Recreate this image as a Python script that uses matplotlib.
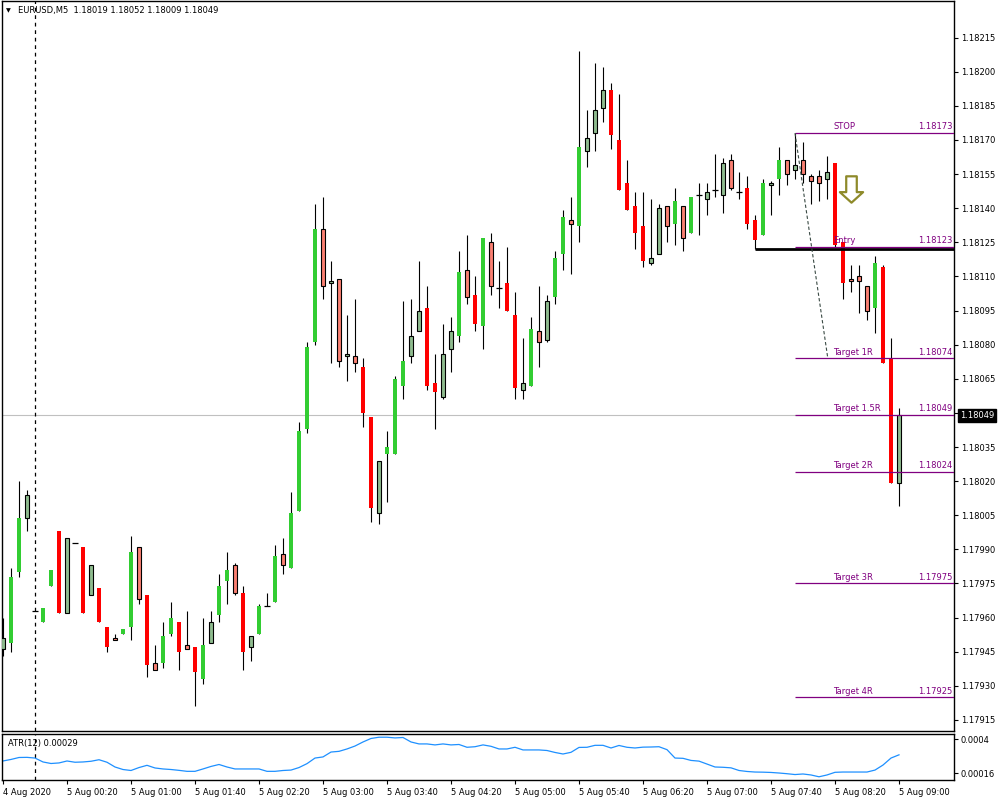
import matplotlib
matplotlib.use('Agg')
import matplotlib.pyplot as plt
from matplotlib.patches import Rectangle
from matplotlib.path import Path
from matplotlib.transforms import blended_transform_factory

plt.rcParams['font.family'] = ['DejaVu Sans']

# EURUSD M5, 4 Aug 23:40 -> 5 Aug 09:00
opens = [1.17946, 1.17949, 1.17980, 1.18004, 1.17963, 1.17958, 1.17974, 1.17998, 1.17962, 1.17993,
         1.17991, 1.17970, 1.17973, 1.17956, 1.17951, 1.17953, 1.17956, 1.17991, 1.17970, 1.17940,
         1.17940, 1.17953, 1.17958, 1.17948, 1.17947, 1.17933, 1.17949, 1.17961, 1.17976, 1.17983,
         1.17971, 1.17947, 1.17953, 1.17965, 1.17967, 1.17988, 1.17982, 1.18007, 1.18043, 1.18081,
         1.18131, 1.18107, 1.18109, 1.18075, 1.18075, 1.18070, 1.18048, 1.18006, 1.18032, 1.18032,
         1.18062, 1.18075, 1.18086, 1.18096, 1.18063, 1.18057, 1.18078, 1.18084, 1.18113, 1.18102,
         1.18088, 1.18125, 1.18105, 1.18107, 1.18093, 1.18060, 1.18062, 1.18086, 1.18082, 1.18101,
         1.18120, 1.18135, 1.18132, 1.18165, 1.18173, 1.18184, 1.18192, 1.18170, 1.18151, 1.18141,
         1.18132, 1.18116, 1.18120, 1.18141, 1.18133, 1.18141, 1.18129, 1.18146, 1.18144, 1.18148,
         1.18146, 1.18161, 1.18147, 1.18149, 1.18135, 1.18128, 1.18150, 1.18153, 1.18161, 1.18157,
         1.18161, 1.18154, 1.18154, 1.18153, 1.18160, 1.18125, 1.18109, 1.18110, 1.18106, 1.18096,
         1.18114, 1.18074, 1.18019]
highs = [1.17960, 1.17982, 1.18020, 1.18016, 1.17963, 1.17964, 1.17981, 1.17998, 1.17995, 1.17993,
         1.17991, 1.17983, 1.17973, 1.17956, 1.17953, 1.17955, 1.17996, 1.17991, 1.17970, 1.17948,
         1.17958, 1.17967, 1.17958, 1.17963, 1.17947, 1.17960, 1.17963, 1.17979, 1.17989, 1.17984,
         1.17974, 1.17952, 1.17966, 1.17971, 1.17992, 1.17995, 1.18015, 1.18046, 1.18081, 1.18142,
         1.18145, 1.18117, 1.18109, 1.18093, 1.18100, 1.18074, 1.18048, 1.18029, 1.18042, 1.18066,
         1.18099, 1.18100, 1.18117, 1.18106, 1.18076, 1.18089, 1.18092, 1.18121, 1.18128, 1.18110,
         1.18127, 1.18129, 1.18117, 1.18123, 1.18103, 1.18083, 1.18092, 1.18106, 1.18102, 1.18121,
         1.18139, 1.18145, 1.18209, 1.18183, 1.18204, 1.18202, 1.18195, 1.18190, 1.18161, 1.18147,
         1.18147, 1.18144, 1.18142, 1.18141, 1.18149, 1.18141, 1.18145, 1.18151, 1.18151, 1.18164,
         1.18162, 1.18164, 1.18156, 1.18154, 1.18137, 1.18153, 1.18152, 1.18167, 1.18161, 1.18173,
         1.18169, 1.18155, 1.18157, 1.18163, 1.18160, 1.18125, 1.18115, 1.18115, 1.18106, 1.18119,
         1.18115, 1.18083, 1.18052]
lows = [1.17943, 1.17945, 1.17978, 1.17998, 1.17963, 1.17958, 1.17974, 1.17962, 1.17962, 1.17993,
        1.17962, 1.17970, 1.17958, 1.17945, 1.17950, 1.17953, 1.17950, 1.17966, 1.17934, 1.17937,
        1.17938, 1.17952, 1.17937, 1.17946, 1.17921, 1.17931, 1.17949, 1.17958, 1.17966, 1.17970,
        1.17937, 1.17941, 1.17953, 1.17965, 1.17967, 1.17979, 1.17982, 1.18007, 1.18041, 1.18080,
        1.18100, 1.18072, 1.18070, 1.18064, 1.18068, 1.18044, 1.18002, 1.18001, 1.18011, 1.18032,
        1.18056, 1.18072, 1.18086, 1.18060, 1.18043, 1.18056, 1.18068, 1.18081, 1.18098, 1.18086,
        1.18078, 1.18102, 1.18096, 1.18095, 1.18056, 1.18056, 1.18062, 1.18070, 1.18081, 1.18098,
        1.18113, 1.18111, 1.18125, 1.18158, 1.18165, 1.18178, 1.18166, 1.18148, 1.18139, 1.18122,
        1.18114, 1.18115, 1.18120, 1.18125, 1.18124, 1.18121, 1.18129, 1.18128, 1.18137, 1.18145,
        1.18138, 1.18148, 1.18144, 1.18131, 1.18122, 1.18128, 1.18137, 1.18146, 1.18150, 1.18153,
        1.18151, 1.18142, 1.18143, 1.18144, 1.18123, 1.18100, 1.18103, 1.18094, 1.18091, 1.18085,
        1.18072, 1.18019, 1.18009]
closes = [1.17951, 1.17978, 1.18004, 1.18014, 1.17963, 1.17964, 1.17981, 1.17962, 1.17995, 1.17993,
          1.17962, 1.17983, 1.17958, 1.17947, 1.17950, 1.17955, 1.17989, 1.17968, 1.17939, 1.17937,
          1.17952, 1.17960, 1.17945, 1.17946, 1.17936, 1.17948, 1.17958, 1.17974, 1.17981, 1.17971,
          1.17945, 1.17952, 1.17965, 1.17965, 1.17987, 1.17983, 1.18006, 1.18042, 1.18079, 1.18131,
          1.18106, 1.18108, 1.18073, 1.18076, 1.18072, 1.18050, 1.18008, 1.18029, 1.18035, 1.18065,
          1.18073, 1.18084, 1.18095, 1.18062, 1.18059, 1.18076, 1.18086, 1.18112, 1.18101, 1.18089,
          1.18127, 1.18106, 1.18105, 1.18095, 1.18061, 1.18063, 1.18087, 1.18081, 1.18099, 1.18118,
          1.18136, 1.18133, 1.18167, 1.18171, 1.18183, 1.18192, 1.18172, 1.18148, 1.18139, 1.18129,
          1.18117, 1.18118, 1.18140, 1.18132, 1.18143, 1.18127, 1.18145, 1.18146, 1.18147, 1.18148,
          1.18160, 1.18149, 1.18147, 1.18133, 1.18126, 1.18151, 1.18151, 1.18161, 1.18155, 1.18159,
          1.18155, 1.18152, 1.18151, 1.18156, 1.18124, 1.18107, 1.18108, 1.18108, 1.18095, 1.18116,
          1.18072, 1.18019, 1.18049]

atr = [0.000246, 0.000257, 0.000271, 0.000272, 0.000267, 0.000239, 0.000228, 0.000232, 0.000246, 0.000237,
       0.000239, 0.000244, 0.000255, 0.000237, 0.000203, 0.000185, 0.000178, 0.000199, 0.000215, 0.000196,
       0.000189, 0.000185, 0.000179, 0.000172, 0.000172, 0.000189, 0.000207, 0.000221, 0.000203, 0.000189,
       0.000189, 0.000189, 0.000189, 0.000172, 0.000172, 0.000178, 0.000181, 0.000199, 0.000227, 0.000267,
       0.000275, 0.000310, 0.000315, 0.000332, 0.000353, 0.000382, 0.000407, 0.000416, 0.000416, 0.000411,
       0.000414, 0.000382, 0.000368, 0.000368, 0.000361, 0.000368, 0.000361, 0.000364, 0.000344, 0.000348,
       0.000361, 0.000351, 0.000332, 0.000332, 0.000344, 0.000325, 0.000325, 0.000325, 0.000321, 0.000307,
       0.000296, 0.000308, 0.000343, 0.000344, 0.000358, 0.000358, 0.000339, 0.000357, 0.000344, 0.000339,
       0.000345, 0.000346, 0.000348, 0.000327, 0.000267, 0.000265, 0.000250, 0.000245, 0.000224, 0.000203,
       0.000201, 0.000197, 0.000178, 0.000171, 0.000167, 0.000166, 0.000164, 0.000160, 0.000155, 0.000149,
       0.000153, 0.000146, 0.000133, 0.000146, 0.000165, 0.000167, 0.000167, 0.000167, 0.000167, 0.000181,
       0.000217, 0.000267, 0.000290]

time_labels = ['4 Aug 2020', '5 Aug 00:20', '5 Aug 01:00', '5 Aug 01:40', '5 Aug 02:20',
               '5 Aug 03:00', '5 Aug 03:40', '5 Aug 04:20', '5 Aug 05:00', '5 Aug 05:40',
               '5 Aug 06:20', '5 Aug 07:00', '5 Aug 07:40', '5 Aug 08:20', '5 Aug 09:00']

# trade levels drawn from the STOP bar
level_names = ['STOP', 'Entry', 'Target 1R', 'Target 1.5R', 'Target 2R', 'Target 3R', 'Target 4R']
level_prices = [1.18173, 1.18123, 1.18074, 1.18049, 1.18024, 1.17975, 1.17925]
level_start = 99
support_bar = 94
day_bar = 4
last_price = 1.18049

price_ticks = [1.17915 + 0.00015 * k for k in range(21)]

fig = plt.figure(figsize=(10, 8), dpi=100)
ax = fig.add_axes([0.002, 1 - 731.3 / 800, 0.952, 730.3 / 800])
ax2 = fig.add_axes([0.002, 0.025, 0.952, 46 / 800])

xmin, xmax = -0.125, 118.875
ax.set_xlim(xmin, xmax)
ax.set_ylim(1.17910, 1.182311)
ax2.set_xlim(xmin, xmax)
ax2.set_ylim(0.00011, 0.000439)

PURPLE = '#800080'
bw = 0.62
n = len(closes)
for i in range(n):
    o, h, l, c = opens[i], highs[i], lows[i], closes[i]
    ax.vlines(i, l, h, color='black', lw=0.8, zorder=2)
    if abs(c - o) < 1e-7:
        ax.hlines(o, i - 0.35, i + 0.35, color='black', lw=0.9, zorder=3)
        continue
    bull = c > o
    # bars closing beyond the previous bar's range are filled bright, others pale with outline
    strong = i > 0 and ((bull and c > highs[i - 1]) or ((not bull) and c < lows[i - 1]))
    y0 = min(o, c)
    hgt = abs(c - o)
    if strong:
        ax.add_patch(Rectangle((i - bw / 2, y0), bw, hgt, facecolor='#32CD32' if bull else '#FF0000',
                               edgecolor='none', zorder=3))
    else:
        ax.add_patch(Rectangle((i - bw / 2, y0), bw, hgt, facecolor='#8FBC8F' if bull else '#FA8072',
                               edgecolor='black', lw=0.8, zorder=3))

# current price line
ax.axhline(last_price, color='#C0C0C0', lw=0.8, zorder=1)

# support line
ax.hlines(lows[support_bar], support_bar, xmax, color='black', lw=2.0, zorder=4)

# trade levels
for name, p in zip(level_names, level_prices):
    ax.hlines(p, level_start, xmax, color=PURPLE, lw=0.9, zorder=5)
    ax.annotate(name, (103.75, p), xytext=(0, 1.2), textcoords='offset points',
                ha='left', va='bottom', fontsize=6, color=PURPLE, zorder=6)
    ax.annotate('%.5f' % p, (118.65, p), xytext=(0, 1.2), textcoords='offset points',
                ha='right', va='bottom', fontsize=6, color=PURPLE, zorder=6)

# dashed risk line from stop to target 1R
ax.plot([level_start, 103.1], [level_prices[0], level_prices[2]], color='#3a4a44',
        lw=0.8, ls=(0, (3, 2)), zorder=5)

# hollow down arrow
arrow = Path([(-0.2, 0.5), (0.2, 0.5), (0.2, -0.1), (0.44, -0.1), (0, -0.5),
              (-0.44, -0.1), (-0.2, -0.1), (-0.2, 0.5)], closed=True)
ax.plot([106.0], [1.181485], marker=arrow, ms=19, mfc='white', mec='#8E8A2A', mew=1.6, zorder=6)

# day separator
for a in (ax, ax2):
    a.axvline(day_bar, color='black', lw=0.9, ls=(0, (3, 3)), zorder=1)

# ATR
ax2.plot(range(len(atr)), atr, color='#1E90FF', lw=0.9)
ax2.text(0.0065, 0.80, 'ATR(12) 0.00029', transform=ax2.transAxes, fontsize=6,
         va='center', ha='left')

# axes styling
for a in (ax, ax2):
    for s in a.spines.values():
        s.set_color('black')
        s.set_linewidth(1.0)
    a.yaxis.tick_right()
    a.tick_params(axis='y', direction='out', length=3, width=0.8, labelsize=6, pad=2)

ax.set_yticks(price_ticks)
ax.set_yticklabels(['%.5f' % v for v in price_ticks])
ax.set_xticks([])

ax2.set_yticks([0.0004, 0.00016])
ax2.set_yticklabels(['0.0004', '0.00016'])
ax2.set_xticks(range(0, 113, 8))
ax2.set_xticklabels(time_labels)
ax2.tick_params(axis='x', direction='out', length=3, width=0.8, labelsize=6, pad=3)
for lab in ax2.get_xticklabels():
    lab.set_ha('left')

tr = blended_transform_factory(ax.transAxes, ax.transData)
ax.text(1.0 + 6 / 952, last_price, '%.5f' % last_price, transform=tr, fontsize=6, color='white',
        va='center', ha='left', zorder=10, clip_on=False,
        bbox=dict(boxstyle='square,pad=0.25', facecolor='black', edgecolor='black'))

# header
fig.text(0.006, 1 - 10.5 / 800, '\u25bc', fontsize=4.5, va='center', ha='left')
fig.text(0.018, 1 - 10.5 / 800, 'EURUSD,M5  1.18019 1.18052 1.18009 1.18049',
         fontsize=6, va='center', ha='left')

fig.savefig('out.png', dpi=100, facecolor='white')
